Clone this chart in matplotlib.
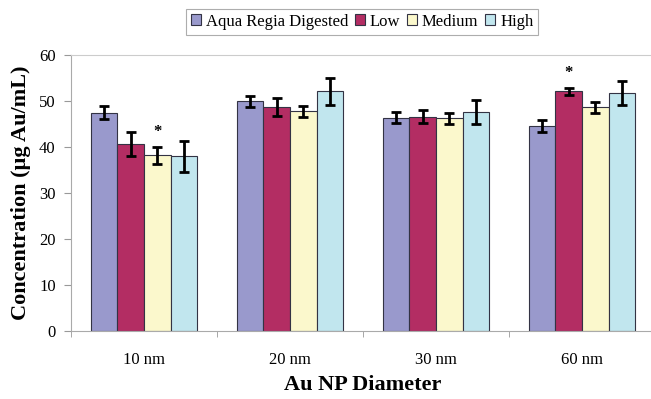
import numpy as np
import matplotlib.pyplot as plt

plt.rcParams['font.family'] = ['Liberation Serif', 'DejaVu Serif']

sizes = ["10 nm", "20 nm", "30 nm", "60 nm"]
series = ["Aqua Regia Digested", "Low", "Medium", "High"]
colors = ["#9999CC", "#B32D63", "#FBF8CC", "#C1E6EE"]

aqua = [47.5, 49.9, 46.4, 44.6]
aqua_err = [1.4, 1.1, 1.2, 1.3]
low = [40.7, 48.7, 46.6, 52.1]
low_err = [2.6, 2.0, 1.4, 0.7]
medium = [38.2, 47.8, 46.2, 48.6]
medium_err = [1.9, 1.2, 1.3, 1.2]
high = [38.0, 52.1, 47.7, 51.7]
high_err = [3.4, 3.0, 2.6, 2.6]

# significance markers: (group index, series index)
stars = [(0, 2), (3, 1)]

values = [aqua, low, medium, high]
errors = [aqua_err, low_err, medium_err, high_err]

fig = plt.figure(figsize=(6.51, 3.99), dpi=100)
ax = fig.add_axes([71/651, 68/399, 584/651, 276/399])

x = np.arange(len(sizes))
w = 0.182
for i, (vals, errs) in enumerate(zip(values, errors)):
    pos = x + (i - 1.5) * w
    ax.bar(pos, vals, w, color=colors[i], edgecolor="#333344", linewidth=0.8,
           label=series[i], zorder=2)
    ax.errorbar(pos, vals, yerr=errs, fmt="none", ecolor="black",
                elinewidth=2, capsize=3.5, capthick=2, zorder=3)

for g, s in stars:
    top = values[s][g] + errors[s][g]
    ax.text(x[g] + (s - 1.5) * w, top + 1.5, "*", ha="center", va="bottom",
            fontsize=12, fontweight="bold")

ax.set_xlim(-0.5, len(sizes) - 0.5)
ax.set_ylim(0, 60)
ax.set_yticks(range(0, 61, 10))
ax.set_xticks(x)
ax.set_xticklabels(sizes)
ax.set_xticks(np.arange(len(sizes) + 1) - 0.5, minor=True)
ax.tick_params(axis="x", which="major", length=0, pad=15, labelsize=12)
ax.tick_params(axis="x", which="minor", length=4, color="#999999")
ax.tick_params(axis="y", length=5, color="#999999", labelsize=12, pad=6)

for side in ["left", "bottom", "top"]:
    ax.spines[side].set_color("#aaaaaa")
    ax.spines[side].set_linewidth(0.8)
ax.spines["top"].set_color("#cccccc")
ax.spines["right"].set_visible(False)

ax.set_ylabel("Concentration (µg Au/mL)", fontsize=16, fontweight="bold", labelpad=6)
ax.set_xlabel("Au NP Diameter", fontsize=16, fontweight="bold", labelpad=5)

leg = fig.legend(loc="center", bbox_to_anchor=(362/651, 1 - 21.5/399), ncol=4,
                 fontsize=12, frameon=True, fancybox=False, edgecolor="#999999",
                 handlelength=0.6, handleheight=0.6, handletextpad=0.3,
                 columnspacing=0.4, borderpad=0.3)
leg.get_frame().set_linewidth(0.8)
for patch in leg.get_patches():
    patch.set_edgecolor("#333344")

fig.savefig("out.png", dpi=100)
